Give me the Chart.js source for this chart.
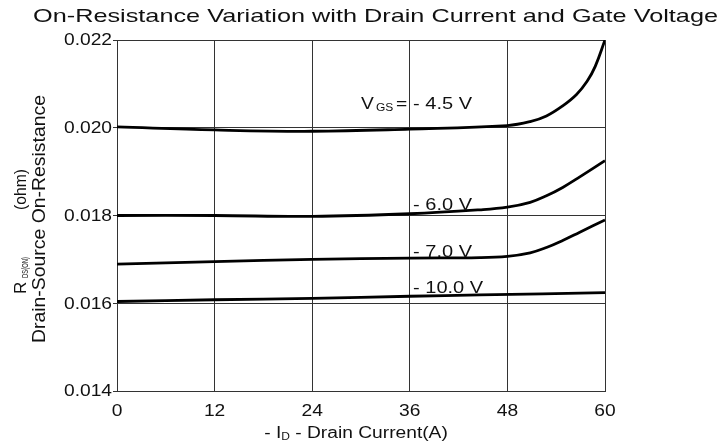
<!DOCTYPE html>
<html>
<head>
<meta charset="utf-8">
<script src="https://cdn.jsdelivr.net/npm/chart.js@4"></script>
<style>
  html, body { margin: 0; padding: 0; background: #fff; }
  canvas { display: block; }
</style>
</head>
<body>
<canvas id="chart" width="722" height="443"></canvas>
<script>
// Ticks
const xTicks = [0, 12, 24, 36, 48, 60];
const yTicks = [0.014, 0.016, 0.018, 0.020, 0.022];

// -ID (A) / RDS(on) (ohm) read per curve
const id45 = [0, 12, 24, 36, 48, 50.8, 52.8, 54.8, 56.5, 57.8, 58.8, 60];
const r45 = [0.02002, 0.01995, 0.01992, 0.01997, 0.02005, 0.02014, 0.02027, 0.0205, 0.02076, 0.02106, 0.0214, 0.0220];

const id60 = [0, 12, 24, 36, 44.6, 48, 50.8, 52.8, 54.8, 56.9, 60];
const r60 = [0.0180, 0.0180, 0.01798, 0.01804, 0.01813, 0.01819, 0.0183, 0.01845, 0.01864, 0.01888, 0.01925];

const id70 = [0, 12, 24, 36, 44.6, 48, 50.8, 52.8, 54.8, 56.9, 60];
const r70 = [0.01689, 0.01695, 0.0170, 0.01703, 0.01704, 0.01707, 0.01715, 0.01727, 0.01743, 0.01762, 0.0179];

const id100 = [0, 12, 24, 36, 44.6, 60];
const r100 = [0.01604, 0.01608, 0.01611, 0.01616, 0.01619, 0.01624];

const seriesNames = ['- 4.5 V', '- 6.0 V', '- 7.0 V', '- 10.0 V'];

const FONT = '"Liberation Sans", Arial, sans-serif';
const pts = (xs, ys) => xs.map((x, i) => ({ x, y: ys[i] }));

// draw text with a horizontal stretch, optionally rotated
function txt(ctx, s, x, y, size, o = {}) {
  ctx.save();
  ctx.font = size + 'px ' + FONT;
  ctx.fillStyle = o.color || '#111';
  ctx.textAlign = o.align || 'left';
  ctx.textBaseline = o.base || 'alphabetic';
  ctx.translate(x, y);
  if (o.rot) ctx.rotate(-Math.PI / 2);
  let sx = o.sx || 1;
  if (o.fit) sx = o.fit / ctx.measureText(s).width;
  ctx.scale(sx, 1);
  ctx.fillText(s, 0, 0);
  const w = ctx.measureText(s).width * sx;
  ctx.restore();
  return w;
}

function width(ctx, s, size, sx = 1) {
  ctx.save();
  ctx.font = size + 'px ' + FONT;
  const w = ctx.measureText(s).width * sx;
  ctx.restore();
  return w;
}

const textPlugin = {
  id: 'texts',
  afterDraw(chart) {
    const { ctx, scales: { x, y } } = chart;

    txt(ctx, 'On-Resistance Variation with Drain Current and Gate Voltage', 33, 22, 19, { fit: 685 });

    yTicks.forEach(v => txt(ctx, v.toFixed(3), x.left - 5, y.getPixelForValue(v) + 1, 16, { align: 'right', base: 'middle', sx: 1.2 }));
    xTicks.forEach(v => txt(ctx, String(v), x.getPixelForValue(v), 416, 16, { align: 'center', sx: 1.2 }));

    // x title: - I_D - Drain Current(A)
    const parts = [['- I', 16, 0], ['D', 10, 2], [' - Drain Current(A)', 16, 0]];
    const total = parts.reduce((s, p) => s + width(ctx, p[0], p[1], 1.2), 0);
    let cx = 356 - total / 2;
    parts.forEach(p => { cx += txt(ctx, p[0], cx, 438 + p[2], p[1], { sx: 1.2 }); });

    // y title, two rotated lines
    txt(ctx, 'Drain-Source On-Resistance', 45, 343, 18, { rot: true, fit: 248 });
    txt(ctx, 'R', 26, 294, 17, { rot: true });
    txt(ctx, 'DS(ON)', 28, 278, 9, { rot: true, fit: 21 });
    txt(ctx, '(ohm)', 26, 210, 17, { rot: true, fit: 41 });

    // curve labels
    const lx = x.getPixelForValue(36.4);
    txt(ctx, seriesNames[0], lx, y.getPixelForValue(0.02043), 16, { sx: 1.25 });
    txt(ctx, seriesNames[1], lx, y.getPixelForValue(0.01812), 16, { sx: 1.25 });
    txt(ctx, seriesNames[2], lx, y.getPixelForValue(0.01706), 16, { sx: 1.25 });
    txt(ctx, seriesNames[3], lx, y.getPixelForValue(0.01624), 16, { sx: 1.25 });
    const by = y.getPixelForValue(0.02043);
    txt(ctx, 'V', 361, by, 16, { sx: 1.2 });
    txt(ctx, 'GS', 376, by + 2, 10, { sx: 1.2 });
    txt(ctx, '=', 396, by, 16, { sx: 1.2 });
  }
};

const line = (data) => ({
  data,
  borderColor: '#000',
  borderWidth: 2.8,
  pointRadius: 0,
  tension: 0.4,
  fill: false,
});

new Chart(document.getElementById('chart'), {
  type: 'line',
  data: {
    datasets: [line(pts(id45, r45)), line(pts(id60, r60)), line(pts(id70, r70)), line(pts(id100, r100))],
  },
  options: {
    responsive: false,
    animation: false,
    layout: { padding: { top: 40, right: 117, bottom: 0, left: 0 } },
    plugins: { legend: { display: false }, tooltip: { enabled: false } },
    scales: {
      x: {
        type: 'linear', min: 0, max: 60,
        afterBuildTicks: s => { s.ticks = xTicks.map(v => ({ value: v })); },
        afterFit: s => { s.height = 52; },
        ticks: { display: false },
        grid: { color: '#333', lineWidth: 1, drawTicks: false },
        border: { color: '#333', width: 1 },
      },
      y: {
        type: 'linear', min: 0.014, max: 0.022,
        afterBuildTicks: s => { s.ticks = yTicks.map(v => ({ value: v })); },
        afterFit: s => { s.width = 117; },
        ticks: { display: false },
        grid: { color: '#333', lineWidth: 1, tickLength: 4 },
        border: { color: '#333', width: 1 },
      },
    },
  },
  plugins: [textPlugin],
});
</script>
</body>
</html>
